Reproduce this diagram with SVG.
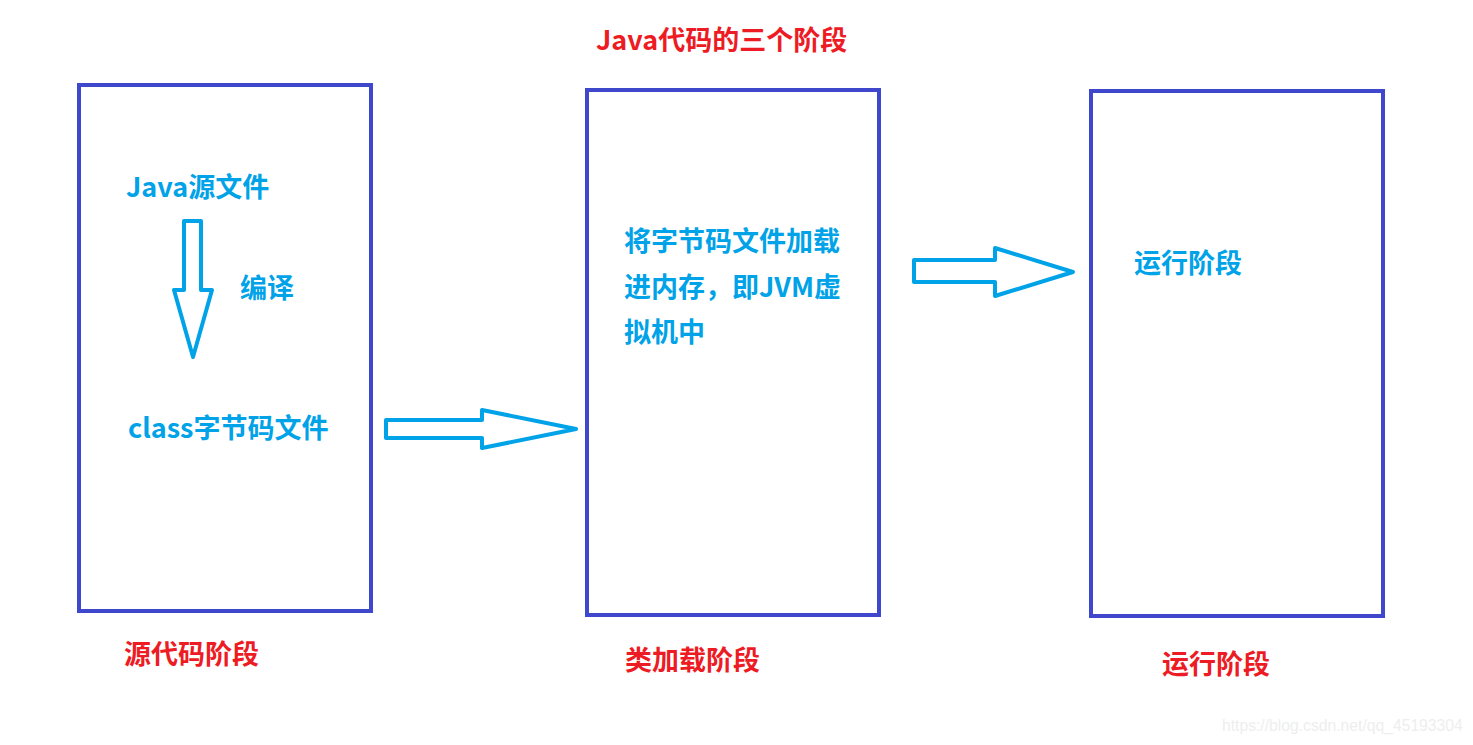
<svg xmlns="http://www.w3.org/2000/svg" width="1473" height="745" viewBox="0 0 1473 745">
<style>
.box{fill:none;stroke:#3f48cc;stroke-width:4}
.arr{fill:none;stroke:#00a2e8;stroke-width:4;stroke-linejoin:round}
.t{font-family:"Noto Sans CJK SC","Noto Sans",sans-serif;font-weight:bold;font-size:27px}
.blue{fill:#00a2e8}
.red{fill:#ed1c24}
.wm{font-family:"Liberation Sans",Arial,sans-serif;font-size:15.7px;fill:#eeeeee}
</style>
<rect width="1473" height="745" fill="#ffffff"/>
<text class="t red" x="596" y="50">Java代码的三个阶段</text>
<g id="source">
<rect class="box" x="79" y="85" width="292" height="526"/>
<text class="t blue" x="126" y="197">Java源文件</text>
<text class="t blue" x="240" y="298">编译</text>
<text class="t blue" x="128" y="438">class字节码文件</text>
<text class="t red" x="124" y="664">源代码阶段</text>
</g>
<g id="classload">
<rect class="box" x="587" y="90" width="292" height="525"/>
<text class="t blue" x="624" y="251">将字节码文件加载</text>
<text class="t blue" x="624" y="297">进内存，即JVM虚</text>
<text class="t blue" x="624" y="342">拟机中</text>
<text class="t red" x="625" y="670">类加载阶段</text>
</g>
<g id="runtime">
<rect class="box" x="1091" y="91" width="292" height="525"/>
<text class="t blue" x="1134" y="273">运行阶段</text>
<text class="t red" x="1162" y="674">运行阶段</text>
</g>
<g id="connectors">
<path class="arr" d="M184,221 H201 V290 H212 L193,357 L174,290 H184 Z"/>
<path class="arr" d="M386,420 H482 V410 L576,429 L482,448 V438 H386 Z"/>
<path class="arr" d="M914,260 H995 V248 L1073,272 L995,296 V282 H914 Z"/>
</g>
<text class="wm" x="1222" y="731">https://blog.csdn.net/qq_45193304</text>
</svg>
